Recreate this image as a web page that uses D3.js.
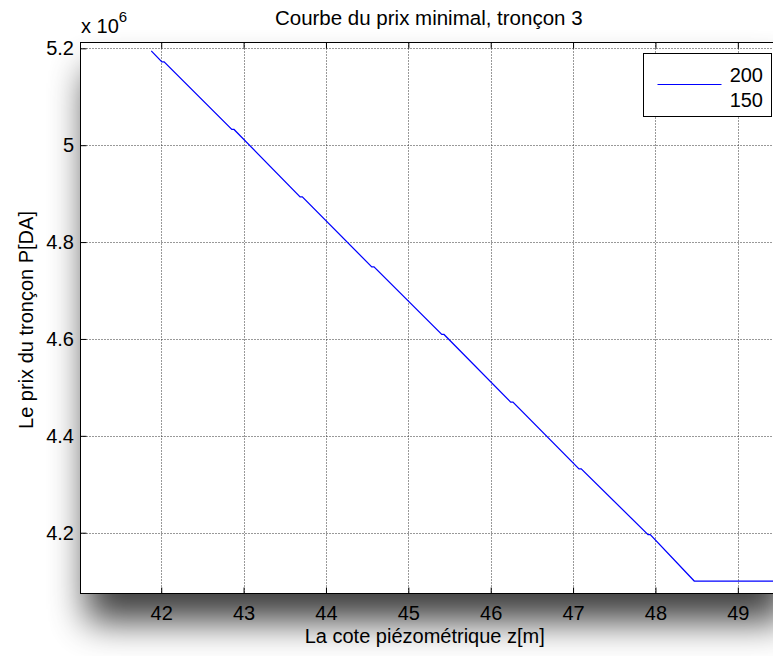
<!DOCTYPE html>
<html><head><meta charset="utf-8">
<script src="https://cdn.jsdelivr.net/npm/d3@7/dist/d3.min.js"></script>
<style>html,body{margin:0;padding:0;background:#fff;overflow:hidden}</style>
</head><body>
<script>
// ---- data ----
const cote = [41.879, 42.008, 42.035, 42.857, 42.884, 43.686, 43.713, 44.556, 44.583, 45.406, 45.433, 46.243, 46.270, 47.072, 47.099, 47.910, 47.937, 48.471, 49.600];
const prix = [5.1946, 5.1719, 5.1719, 5.0324, 5.0324, 4.8933, 4.8933, 4.7488, 4.7488, 4.6093, 4.6093, 4.4695, 4.4695, 4.3319, 4.3319, 4.1960, 4.1960, 4.1003, 4.1003];
const xTicks = [42, 43, 44, 45, 46, 47, 48, 49];
const yTicks = [4.2, 4.4, 4.6, 4.8, 5.0, 5.2];
const legendLabels = ["200", "150"];
const titleText = "Courbe du prix minimal, tronçon 3";
const xLabel = "La cote piézométrique z[m]";
const yLabel = "Le prix du tronçon P[DA]";

const W = 773, H = 656;
const L = 80.5, T = 42.5, R = 779, B = 593.5;
const font = "'Liberation Sans', Arial, sans-serif";
const fs = "20px";

const svg = d3.select("body").append("svg").attr("width", W).attr("height", H);
const defs = svg.append("defs");
const f = defs.append("filter").attr("id", "shadow").attr("x", "-50%").attr("y", "-50%").attr("width", "200%").attr("height", "200%");
f.append("feGaussianBlur").attr("stdDeviation", 18);
defs.append("clipPath").attr("id", "clip").append("rect")
  .attr("x", L).attr("y", T).attr("width", R - L).attr("height", B - T);

const x = d3.scaleLinear().domain([41.02, 49.5]).range([L, R]);
const y = d3.scaleLinear().domain([4.0745, 5.212]).range([B, T]);

// shadow
svg.append("rect").attr("x", L + 6).attr("y", T + 28).attr("width", R - L).attr("height", B - T)
  .attr("fill", "#000").attr("opacity", 0.75).attr("filter", "url(#shadow)");
svg.append("rect").attr("x", L).attr("y", T).attr("width", R - L).attr("height", B - T).attr("fill", "#fff");

// grid
const g = svg.append("g");
g.selectAll("line.vg").data(xTicks).join("line")
  .attr("x1", d => Math.round(x(d)) + 0.5).attr("x2", d => Math.round(x(d)) + 0.5)
  .attr("y1", T).attr("y2", B)
  .attr("stroke", "#333").attr("stroke-dasharray", "1,2");
g.selectAll("line.hg").data(yTicks).join("line")
  .attr("y1", d => Math.round(y(d)) + 0.5).attr("y2", d => Math.round(y(d)) + 0.5)
  .attr("x1", L).attr("x2", R)
  .attr("stroke", "#333").attr("stroke-dasharray", "1,2");

// line
const line = d3.line().x((d, i) => x(cote[i])).y((d, i) => y(prix[i]));
svg.append("path").datum(cote).attr("clip-path", "url(#clip)")
  .attr("d", line).attr("fill", "none").attr("stroke", "#0000ff").attr("stroke-width", 1.25);

// axes
const xAxis = d3.axisBottom(x).tickValues(xTicks).tickSize(-6).tickPadding(12).tickFormat(d3.format("d"));
const xAxisTop = d3.axisTop(x).tickValues(xTicks).tickSize(-6).tickFormat("");
const yAxis = d3.axisLeft(y).tickValues(yTicks).tickSize(-6).tickPadding(6.5).tickFormat(d => d === 5 ? "5" : d3.format(".1f")(d));
function style(sel) {
  sel.select(".domain").remove();
  sel.selectAll("line").attr("stroke", "#000");
  sel.selectAll("text").attr("fill", "#000").style("font-family", font).style("font-size", fs);
}
svg.append("g").attr("transform", `translate(0,${B})`).call(xAxis).call(style);
svg.append("g").attr("transform", `translate(0,${T})`).call(xAxisTop).call(style);
svg.append("g").attr("transform", `translate(${L},0)`).call(yAxis).call(style);
svg.append("rect").attr("x", L).attr("y", T).attr("width", R - L).attr("height", B - T)
  .attr("fill", "none").attr("stroke", "#000").attr("stroke-width", 1);

// exponent
const ex = svg.append("text").attr("x", 81).attr("y", 33).style("font-family", font).style("font-size", fs).attr("fill", "#000");
ex.append("tspan").text("x 10");
ex.append("tspan").attr("dy", -11).style("font-size", "15px").text("6");

// title and labels
svg.append("text").attr("x", (L + R) / 2 - 1).attr("y", 25).attr("text-anchor", "middle")
  .style("font-family", font).style("font-size", "20.5px").attr("fill", "#000").text(titleText);
svg.append("text").attr("x", (L + R) / 2 - 5).attr("y", 643).attr("text-anchor", "middle")
  .style("font-family", font).style("font-size", fs).attr("fill", "#000").text(xLabel);
svg.append("text").attr("transform", `translate(33,320) rotate(-90)`).attr("text-anchor", "middle")
  .style("font-family", font).style("font-size", fs).attr("fill", "#000").text(yLabel);

// legend
const lg = svg.append("g");
lg.append("rect").attr("x", 643.5).attr("y", 53.5).attr("width", 128).attr("height", 63)
  .attr("fill", "#fff").attr("stroke", "#000");
lg.append("line").attr("x1", 657.5).attr("x2", 721.5).attr("y1", 84.5).attr("y2", 84.5).attr("stroke", "#0000ff");
lg.selectAll("text").data(legendLabels).join("text")
  .attr("x", 763).attr("y", (d, i) => 82 + i * 25).attr("text-anchor", "end")
  .style("font-family", font).style("font-size", fs).attr("fill", "#000").text(d => d);
</script>
</body></html>
